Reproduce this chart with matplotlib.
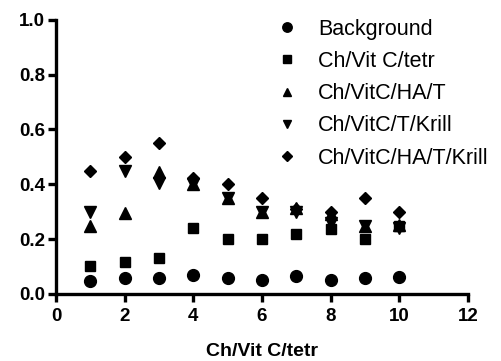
import numpy as np
import matplotlib
matplotlib.use("Agg")
import matplotlib.pyplot as plt

plt.rcParams['font.family'] = ['Liberation Sans', 'DejaVu Sans']

# doses on the x axis
x = [1, 2, 3, 4, 5, 6, 7, 8, 9, 10]

# measured values per group
background = [0.047, 0.058, 0.058, 0.069, 0.058, 0.049, 0.066, 0.049, 0.058, 0.06]
vitc_tetr = [0.10, 0.118, 0.131, 0.24, 0.20, 0.20, 0.22, 0.237, 0.20, 0.248]
vitc_ha_t = [0.248, 0.295, 0.443, 0.40, 0.35, 0.30, 0.315, 0.29, 0.248, 0.25]
vitc_t_krill = [0.30, 0.45, 0.405, 0.40, 0.35, 0.30, 0.30, 0.26, 0.248, 0.24]
vitc_ha_t_krill = [0.449, 0.50, 0.55, 0.423, 0.40, 0.35, 0.31, 0.30, 0.35, 0.30]

labels = ['Background', 'Ch/Vit C/tetr', 'Ch/VitC/HA/T', 'Ch/VitC/T/Krill', 'Ch/VitC/HA/T/Krill']
series = [background, vitc_tetr, vitc_ha_t, vitc_t_krill, vitc_ha_t_krill]
markers = ['o', 's', '^', 'v', 'D']
sizes = [8.5, 7.5, 8, 8, 6.5]

x_ticks = [0, 2, 4, 6, 8, 10, 12]
y_ticks = [0.0, 0.2, 0.4, 0.6, 0.8, 1.0]

fig = plt.figure(figsize=(5.01, 3.61), dpi=100)
ax = fig.add_axes([0.112, 0.186, 0.822, 0.759])

for vals, lab, m, s in zip(series, labels, markers, sizes):
    ax.plot(x, vals, linestyle='none', marker=m, markersize=s, color='black',
            label=lab, clip_on=False)

ax.set_xlim(0, 12)
ax.set_ylim(0, 1.0)
ax.set_xticks(x_ticks)
ax.set_yticks(y_ticks)
ax.set_yticklabels([f'{v:.1f}' for v in y_ticks])

for side in ['top', 'right']:
    ax.spines[side].set_visible(False)
for side in ['left', 'bottom']:
    ax.spines[side].set_linewidth(2.4)

ax.tick_params(axis='both', direction='out', length=6, width=2.4, labelsize=13.5)
ax.tick_params(axis='y', pad=2)
ax.tick_params(axis='x', pad=4)
for t in ax.get_xticklabels() + ax.get_yticklabels():
    t.set_fontweight('bold')

ax.set_xlabel('Ch/Vit C/tetr', fontsize=14, fontweight='bold', labelpad=13)

leg = ax.legend(loc='upper left', bbox_to_anchor=(0.551, 0.948),
                bbox_transform=fig.transFigure, frameon=False, fontsize=15.5,
                handlelength=1.0, handletextpad=0.94, labelspacing=0.52,
                borderpad=0, borderaxespad=0, markerscale=0.8)

fig.savefig('out.png', dpi=100)
